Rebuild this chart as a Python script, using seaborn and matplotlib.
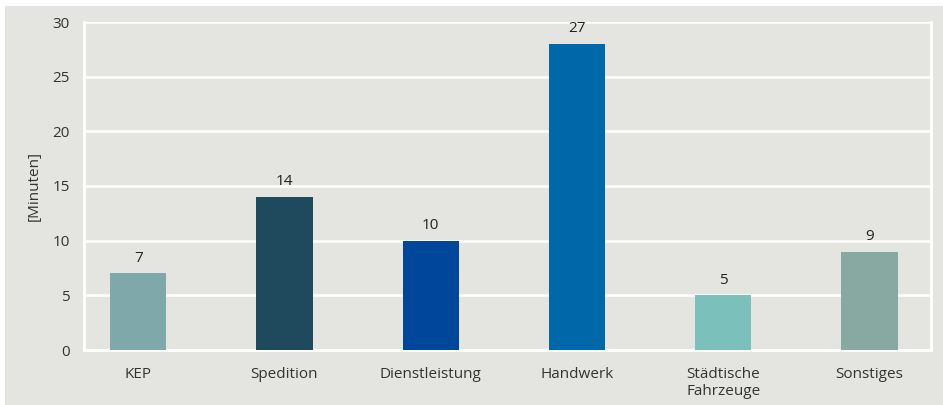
import matplotlib
matplotlib.use("Agg")
import matplotlib.pyplot as plt
import seaborn as sns
import pandas as pd
from matplotlib.patches import Rectangle

categories = ["KEP", "Spedition", "Dienstleistung", "Handwerk", "Städtische\nFahrzeuge", "Sonstiges"]
values = [7, 14, 10, 28, 5, 9]
labels = ["7", "14", "10", "27", "5", "9"]
colors = ["#7fa8ab", "#1f4a5e", "#00479b", "#0068a8", "#7cc0bb", "#88a9a1"]
yticks = [0, 5, 10, 15, 20, 25, 30]

sns.set_theme(style="white")
plt.rcParams["font.family"] = ["Open Sans", "DejaVu Sans"]

bg = "#e4e4e0"
fig = plt.figure(figsize=(9.43, 4.05), dpi=100, facecolor="white")
fig.patches.append(Rectangle((5 / 943, 0), 1, 1 - 6 / 405, transform=fig.transFigure,
                             facecolor=bg, edgecolor="none", zorder=-10))
ax = fig.add_axes([84 / 943, 1 - 350 / 405, (931 - 84) / 943, (350 - 22) / 405])
ax.set_facecolor(bg)

df = pd.DataFrame({"cat": categories, "val": values})
sns.barplot(data=df, x="cat", y="val", hue="cat", palette=colors, legend=False,
            width=0.385, saturation=1, linewidth=0, ax=ax, zorder=3)

for i, (v, lab) in enumerate(zip(values, labels)):
    ax.text(i, v + 0.7, lab, ha="center", va="bottom", fontsize=11, color="#222222")

ax.set_xlim(-0.37, 5.42)
ax.set_ylim(0, 30)
ax.set_yticks(yticks)
ax.yaxis.grid(True, color="white", linewidth=1.8, zorder=0)
ax.set_axisbelow(True)
for s in ["left", "bottom", "right"]:
    ax.spines[s].set_visible(True)
    ax.spines[s].set_color("white")
    ax.spines[s].set_linewidth(2)
ax.spines["top"].set_visible(False)
ax.tick_params(axis="both", length=0, labelsize=11, colors="#333333")
ax.tick_params(axis="y", pad=10)
ax.tick_params(axis="x", pad=12)
ax.set_xlabel("")
ax.set_ylabel("[Minuten]", fontsize=11, color="#333333", labelpad=8)

fig.savefig("out.png", dpi=100, facecolor=fig.get_facecolor())
